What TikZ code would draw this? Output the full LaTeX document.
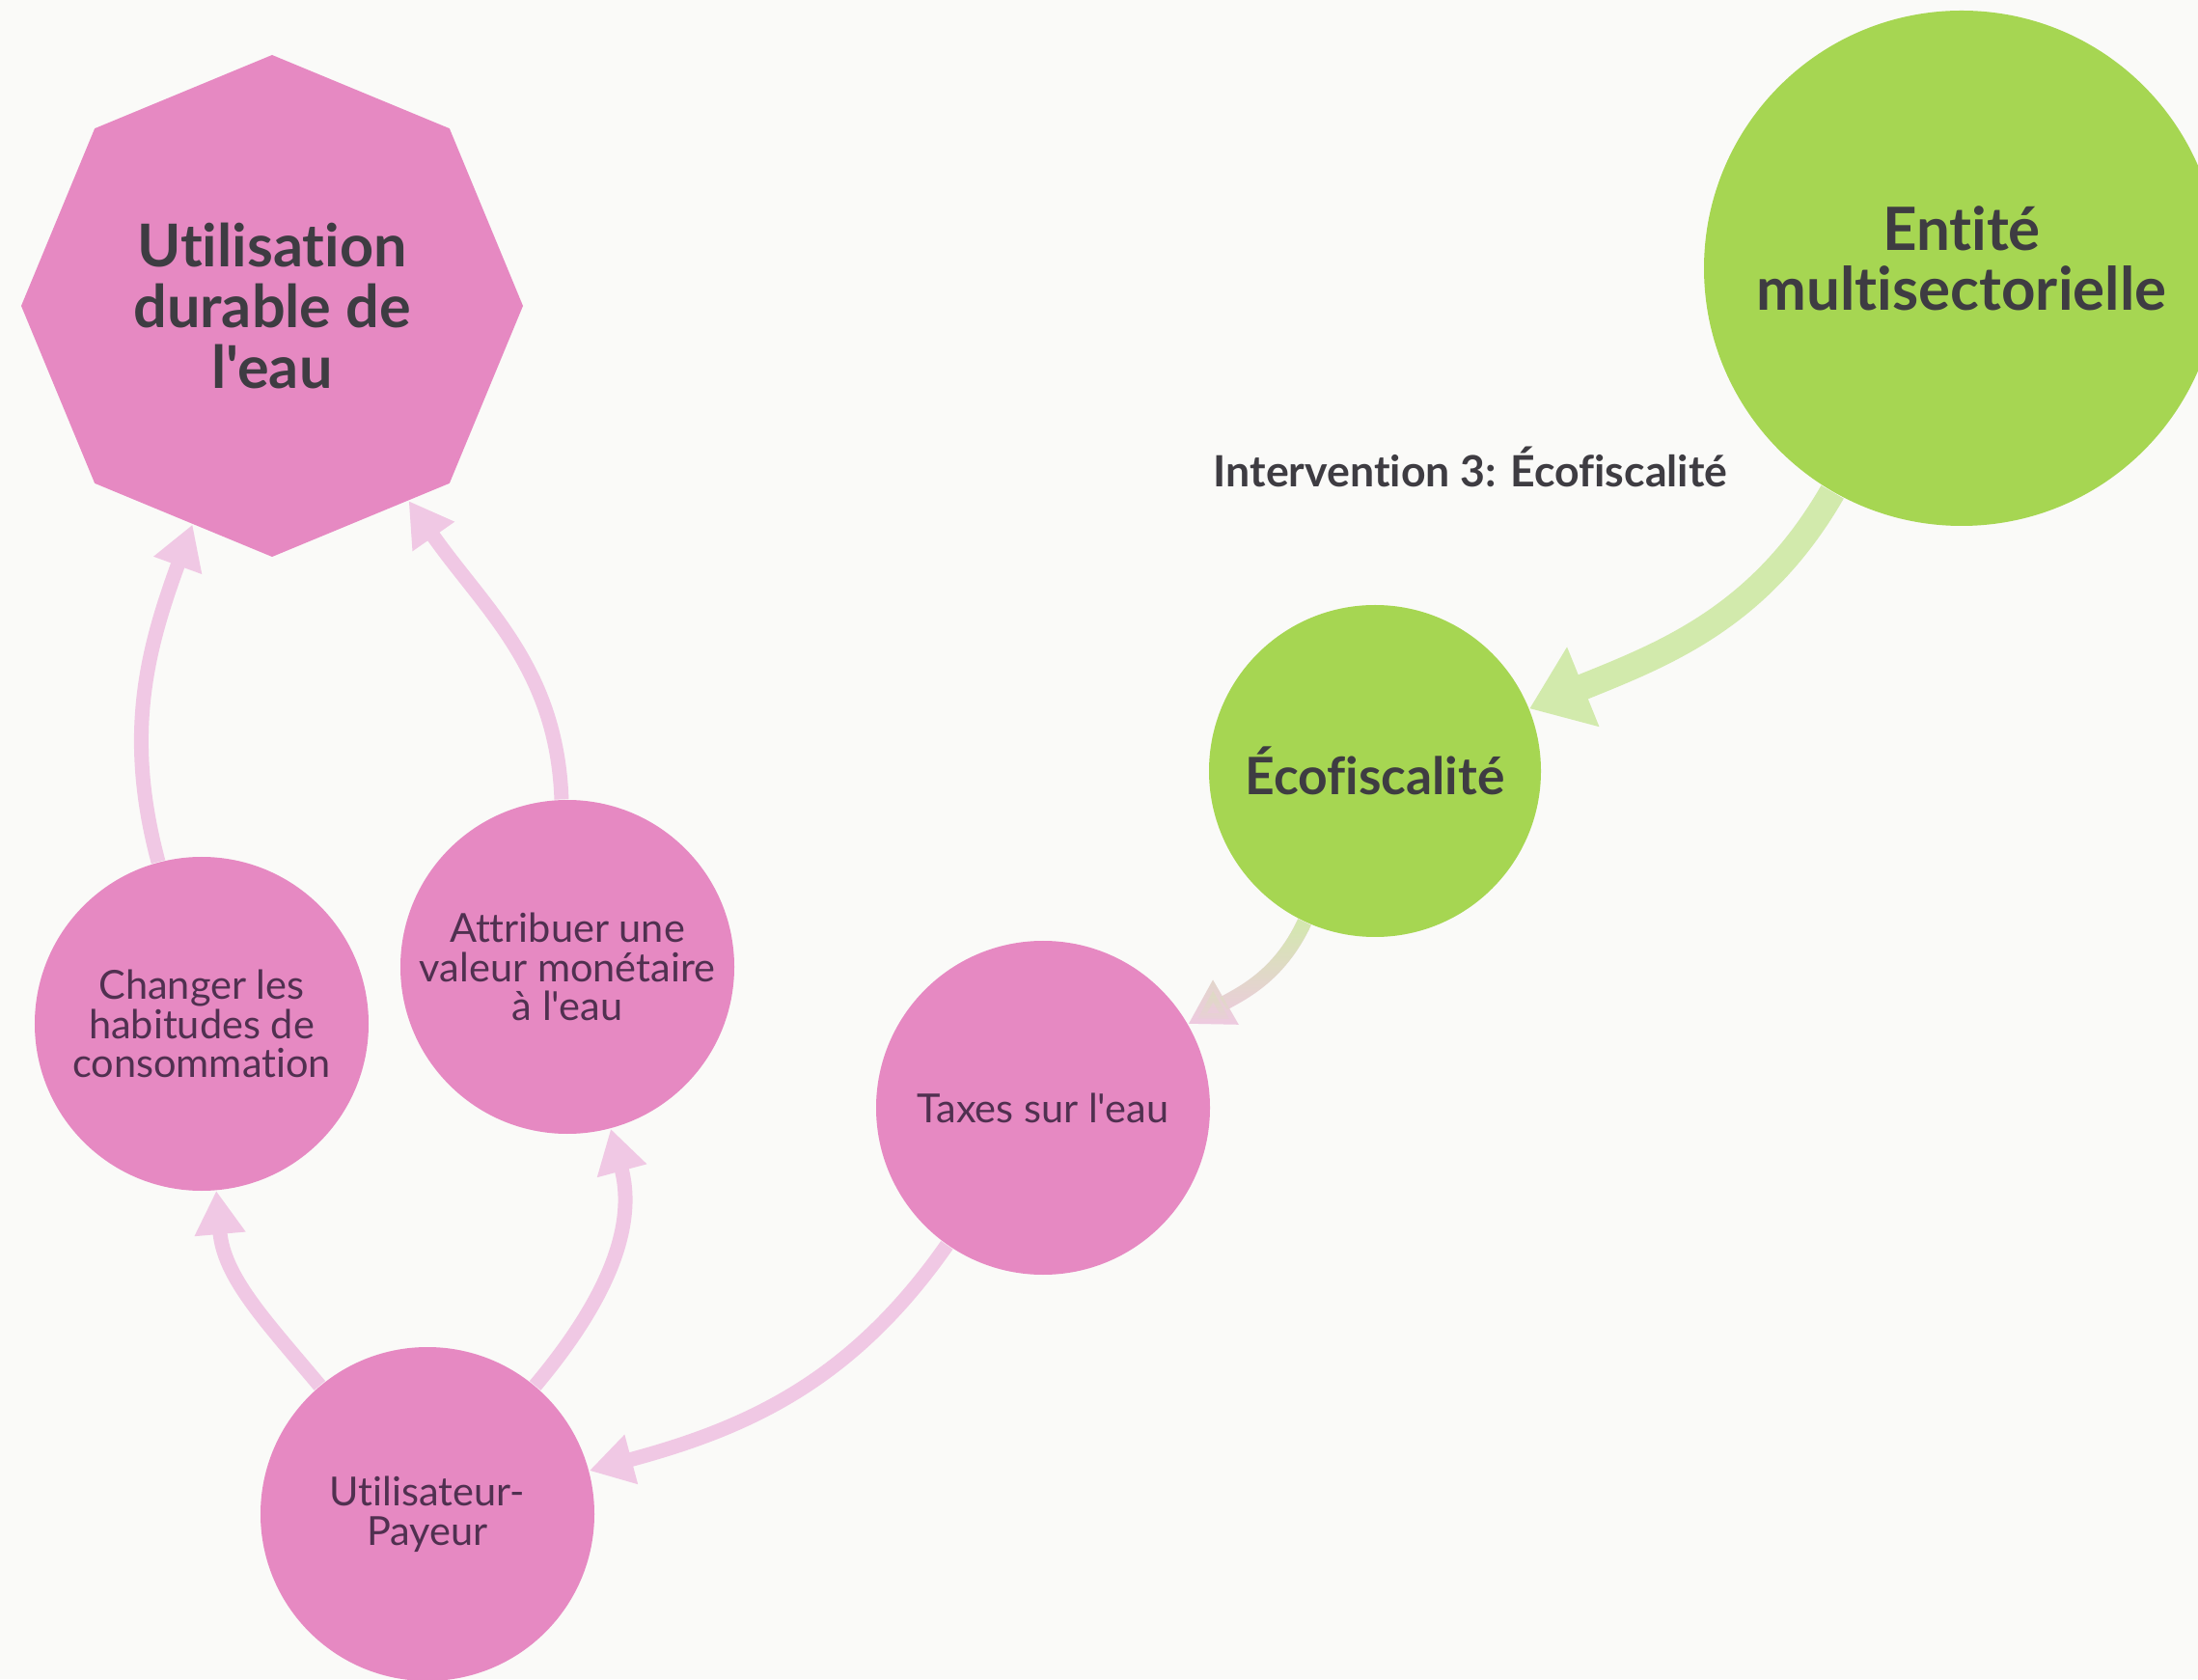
\documentclass[tikz,border=0pt]{standalone}
\usepackage{fontspec}
\setmainfont{Lato}[Ligatures = {TeXOff, CommonOff}]
\usetikzlibrary{shapes.geometric,arrows.meta,fadings}

\definecolor{paper}{RGB}{250,250,248}
\definecolor{pinkfill}{RGB}{230,137,194}
\definecolor{greenfill}{RGB}{166,214,82}
\definecolor{pinklink}{RGB}{240,200,228}
\definecolor{greenlink}{RGB}{210,234,172}
\definecolor{ink}{RGB}{62,60,66}
\definecolor{pinkink}{RGB}{80,48,80}

\tikzfading[name = fadedown, top color = transparent!0, bottom color = transparent!100]

\begin{document}
\begin{tikzpicture}[
		pinknode/.style = {circle, fill = pinkfill, minimum size = 3.46cm, inner sep = 0pt, align = center, text = pinkink, font = \fontsize{11.8}{11.6}\selectfont},
		greennode/.style = {circle, fill = greenfill, inner sep = 0pt, align = center, text = ink, font = \bfseries\fontsize{17.6}{17.7}\selectfont},
		link/.style = {line width = 0.15cm, draw = pinklink, -{Triangle[length = 0.45cm, width = 0.5cm]}}]

		\useasboundingbox (0,0) rectangle (22.78,17.40);
		\clip (0,0) rectangle (22.78,17.40);
		\fill [paper] (0,0) rectangle (22.78,17.40);

		\node [regular polygon, regular polygon sides = 8, shape border rotate = 22.5, fill = pinkfill, minimum size = 5.2cm, inner sep = 0pt, align = center, text = ink, font = \bfseries\fontsize{17.4}{18}\selectfont] (goal) at (2.82,14.23) {Utilisation\\durable de\\l'eau};
		\node [greennode, minimum size = 5.34cm] (entity) at (20.33,14.62) {\raisebox{-0.05cm}[0pt][0pt]{\parbox{5cm}{\centering Entité\\multisectorielle}}};
		\node [greennode, minimum size = 3.44cm, font = \bfseries\fontsize{15.2}{16}\selectfont] (ecotax) at (14.25,9.41) {Écofiscalité};
		\node [font = \bfseries\fontsize{12.7}{14}\selectfont, text = ink] (title) at (15.24,12.56) {Intervention 3: Écofiscalité};

		\node [pinknode] (taxes) at (10.81,5.92) {Taxes sur l'eau};
		\node [pinknode] (value) at (5.88,7.38) {Attribuer une\\valeur monétaire\\à l'eau};
		\node [pinknode] (habits) at (2.09,6.79) {Changer les\\habitudes de\\consommation};
		\node [pinknode] (payer) at (4.43,1.71) {Utilisateur-\\Payeur};

		\draw [link, draw = greenlink, line width = 0.27cm, -{Triangle[length = 0.6cm, width = 0.85cm]}] (entity) to [out = 240, in = 22] (ecotax);
		% green fading into pink
		\draw [link] (ecotax) to [out = 245, in = 30] (taxes);
		\draw [link, draw = greenlink, path fading = fadedown] (ecotax) to [out = 245, in = 30] (taxes);
		\draw [link] (taxes) to [out = 235, in = 15] (payer);
		\draw [link] (payer) to [out = 130, in = 275] (habits);
		\draw [link] (payer) to [out = 50, in = 285] (value);
		\draw [link] (habits) to [out = 105, in = 250] (goal);
		\draw [link] (value) to [out = 92, in = 305] (goal);

		\end{tikzpicture}
\end{document}
